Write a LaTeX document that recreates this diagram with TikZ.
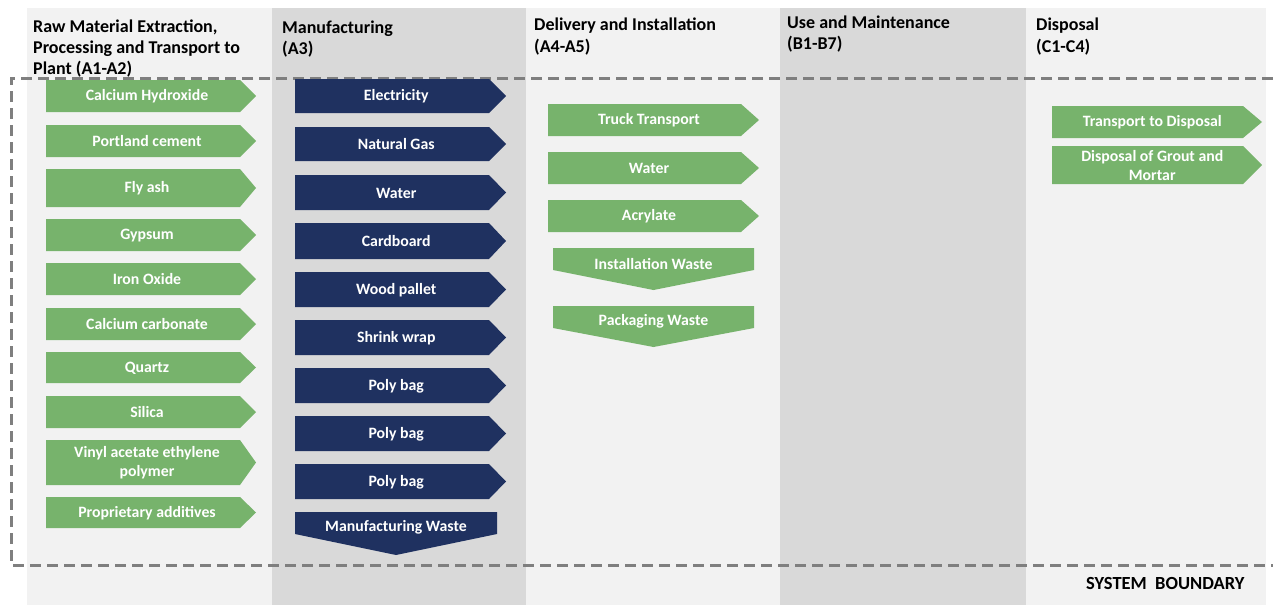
\documentclass[tikz,border=0pt]{standalone}
\usepackage{fontspec}
\setmainfont{Carlito}
\definecolor{lightbg}{HTML}{F2F2F2}
\definecolor{darkbg}{HTML}{D9D9D9}
\definecolor{grn}{HTML}{77B36C}
\definecolor{navy}{HTML}{1F3160}
\definecolor{dashgray}{HTML}{7F7F7F}
\tikzset{
  lab/.style={text=white, font=\fontsize{15.8}{19}\selectfont\bfseries, align=center, inner sep=0pt},
  hdr/.style={font=\fontsize{18}{21}\selectfont\bfseries, align=left, anchor=base west, inner sep=0pt},
  lightcol/.style={fill=lightbg},
  darkcol/.style={fill=darkbg},
  boundary/.style={draw=dashgray, line width=3pt, dash pattern=on 11pt off 6pt},
  sysb/.style={font=\fontsize{18.5}{21}\selectfont\bfseries, anchor=base west, inner sep=0pt},
}
% right arrow: name, colour, x left, x body end, x tip, y top, y bottom, text
\newcommand{\RArrow}[8]{%
  \fill[#2] (#3,#6) -- (#4,#6) -- (#5,{(#6+#7)/2}) -- (#4,#7) -- (#3,#7) -- cycle;
  \node[lab] (#1) at ({(#3+(#4+#5)/2)/2},{(#6+#7)/2+0.5}) {#8};}
% down arrow: name, colour, x left, x right, y top, y body bottom, y point, text
\newcommand{\DArrow}[8]{%
  \fill[#2] (#3,#5) -- (#4,#5) -- (#4,#6) -- ({(#3+#4)/2},#7) -- (#3,#6) -- cycle;
  \node[lab] (#1) at ({(#3+#4)/2},{(#5+#6)/2+4.5}) {#8};}
\begin{document}
\begin{tikzpicture}[x=1pt,y=-1pt]
\useasboundingbox (0,0) rectangle (1273,605);
\fill[white] (0,0) rectangle (1273,605);
% columns
\fill[lightcol] (27,8) rectangle (272,605);
\fill[darkcol] (272,8) rectangle (526,605);
\fill[lightcol] (526,8) rectangle (780,605);
\fill[darkcol] (780,8) rectangle (1026,605);
\fill[lightcol] (1026,8) rectangle (1266,605);
% headers (anchor = baseline of last line)
\node[hdr] (h1) at (33,74) {Raw Material Extraction,\\Processing and Transport to\\Plant (A1-A2)};
\node[hdr] (h2) at (282,54) {Manufacturing\\(A3)};
\node[hdr] (h3) at (534,52) {Delivery and Installation\\(A4-A5)};
\node[hdr] (h4) at (787,49) {Use and Maintenance\\(B1-B7)};
\node[hdr] (h5) at (1036,52) {Disposal\\(C1-C4)};
% system boundary
\draw[boundary] (1290,78) -- (11,78) -- (11,565) -- (1290,565);
\node[sysb] (sb) at (1086,589) {SYSTEM\ \ BOUNDARY};
% column 1
\RArrow{c1}{grn}{46}{240}{256}{80}{112}{Calcium Hydroxide}
\RArrow{c2}{grn}{46}{240}{256}{125}{157}{Portland cement}
\RArrow{c3}{grn}{46}{240}{256}{169}{207}{Fly ash}
\RArrow{c4}{grn}{46}{240}{256}{219}{251}{Gypsum}
\RArrow{c5}{grn}{46}{240}{256}{263}{295}{Iron Oxide}
\RArrow{c6}{grn}{46}{240}{256}{308}{340}{Calcium carbonate}
\RArrow{c7}{grn}{46}{240}{256}{352}{383}{Quartz}
\RArrow{c8}{grn}{46}{240}{256}{396}{428}{Silica}
\RArrow{c9}{grn}{46}{240}{256}{440}{485}{Vinyl acetate ethylene\\polymer}
\RArrow{c10}{grn}{46}{240}{256}{497}{528}{Proprietary additives}
% column 2
\RArrow{m1}{navy}{295}{489}{506}{79}{113}{Electricity}
\RArrow{m2}{navy}{295}{489}{506}{127}{161}{Natural Gas}
\RArrow{m3}{navy}{295}{489}{506}{175}{210}{Water}
\RArrow{m4}{navy}{295}{489}{506}{223}{259}{Cardboard}
\RArrow{m5}{navy}{295}{489}{506}{272}{307}{Wood pallet}
\RArrow{m6}{navy}{295}{489}{506}{320}{355}{Shrink wrap}
\RArrow{m7}{navy}{295}{489}{506}{368}{403}{Poly bag}
\RArrow{m8}{navy}{295}{489}{506}{416}{451}{Poly bag}
\RArrow{m9}{navy}{295}{489}{506}{464}{499}{Poly bag}
\DArrow{m10}{navy}{295}{497}{512}{534}{555}{Manufacturing Waste}
% column 3
\RArrow{d1}{grn}{548}{741}{759}{104}{136}{Truck Transport}
\RArrow{d2}{grn}{548}{741}{759}{152}{184}{Water}
\RArrow{d3}{grn}{548}{741}{759}{200}{232}{Acrylate}
\DArrow{d4}{grn}{553}{754}{248}{270}{290}{Installation Waste}
\DArrow{d5}{grn}{553}{754}{306}{328}{347}{Packaging Waste}
% column 5
\RArrow{e1}{grn}{1052}{1243}{1262}{106}{138}{Transport to Disposal}
\RArrow{e2}{grn}{1052}{1243}{1262}{146}{184}{Disposal of Grout and\\Mortar}
\end{tikzpicture}
\end{document}
